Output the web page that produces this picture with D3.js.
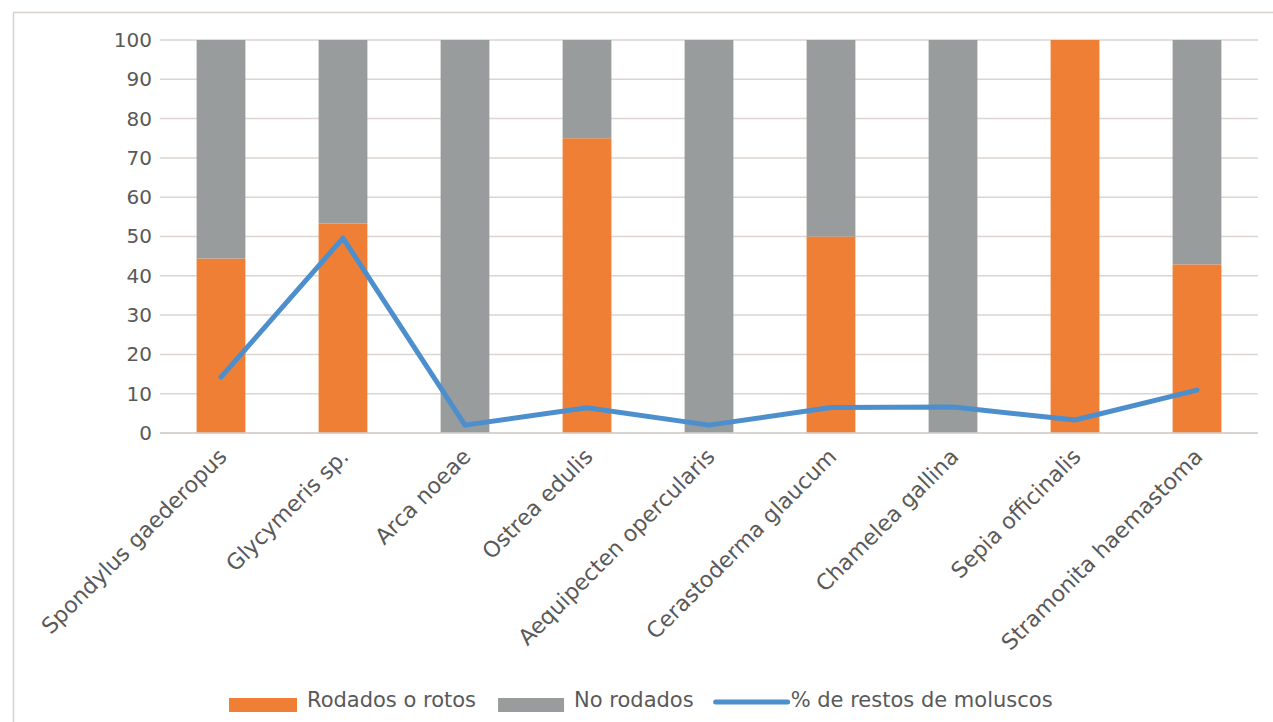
<!DOCTYPE html>
<html>
<head>
<meta charset="utf-8">
<script src="https://cdn.jsdelivr.net/npm/d3@7"></script>
<style>
  html, body { margin: 0; padding: 0; background: #ffffff; }
  svg { display: block; }
  text { font-family: "DejaVu Sans", sans-serif; fill: #595959; }
</style>
</head>
<body>
<svg id="chart" width="1273" height="722"></svg>
<script>
const categories = [
  "Spondylus gaederopus", "Glycymeris sp.", "Arca noeae", "Ostrea edulis",
  "Aequipecten opercularis", "Cerastoderma glaucum", "Chamelea gallina",
  "Sepia officinalis", "Stramonita haemastoma"
];
const rodados = [44.4, 53.3, 0, 75, 0, 50, 0, 100, 42.9];
const noRodados = [55.6, 46.7, 100, 25, 100, 50, 100, 0, 57.1];
const restosPct = [14.2, 49.6, 2, 6.4, 2, 6.5, 6.6, 3.3, 10.9];
const yTicks = [0, 10, 20, 30, 40, 50, 60, 70, 80, 90, 100];
const seriesNames = ["Rodados o rotos", "No rodados", "% de restos de moluscos"];
const colors = ["#ef7f35", "#999c9c", "#4d8fcd"];

const svg = d3.select("#chart");
const W = 1273, H = 722;
const m = { left: 160, right: 1258, top: 40, bottom: 433 };

// chart area border
svg.append("rect").attr("x", 13.5).attr("y", 12.5)
  .attr("width", W + 20).attr("height", H + 20)
  .attr("fill", "#ffffff").attr("stroke", "#d8d2ce").attr("stroke-width", 1.5);

const x = d3.scaleBand().domain(categories).range([m.left, m.right]).paddingInner(0.6).paddingOuter(0.3);
const y = d3.scaleLinear().domain([0, 100]).range([m.bottom, m.top]);

// gridlines
svg.append("g").selectAll("line").data(yTicks).join("line")
  .attr("x1", m.left).attr("x2", m.right)
  .attr("y1", d => y(d)).attr("y2", d => y(d))
  .attr("stroke", "#dcd5d1").attr("stroke-width", 1.5);

// y axis labels
const yAxis = d3.axisLeft(y).tickValues(yTicks).tickSize(0).tickPadding(8);
const yg = svg.append("g").attr("transform", `translate(${m.left},0)`).call(yAxis);
yg.select(".domain").remove();
yg.selectAll("text").attr("font-size", 20).attr("font-family", "DejaVu Sans").attr("fill", "#595959");

// stacked bars
const stackData = categories.map((c, i) => ({ cat: c, rod: rodados[i], no: noRodados[i] }));
const stack = d3.stack().keys(["rod", "no"])(stackData);
svg.append("g").selectAll("g").data(stack).join("g")
  .attr("fill", (d, i) => colors[i])
  .selectAll("rect").data(d => d).join("rect")
  .attr("x", d => x(d.data.cat))
  .attr("width", x.bandwidth())
  .attr("y", d => y(d[1]))
  .attr("height", d => y(d[0]) - y(d[1]));

// x axis line
svg.append("line").attr("x1", m.left).attr("x2", m.right)
  .attr("y1", y(0)).attr("y2", y(0)).attr("stroke", "#d6d0cc").attr("stroke-width", 1.5);

// line series
const line = d3.line().x((d, i) => x(categories[i]) + x.bandwidth() / 2).y(d => y(d));
svg.append("path").datum(restosPct).attr("d", line)
  .attr("fill", "none").attr("stroke", colors[2]).attr("stroke-width", 5)
  .attr("stroke-linejoin", "round").attr("stroke-linecap", "round");

// x labels rotated
const xAxis = d3.axisBottom(x).tickSize(0).tickPadding(0);
const xg = svg.append("g").attr("transform", `translate(0,${y(0)})`).call(xAxis);
xg.select(".domain").remove();
xg.selectAll("text")
  .attr("font-size", 22).attr("font-family", "DejaVu Sans").attr("fill", "#595959")
  .attr("text-anchor", "end")
  .attr("dy", 0).attr("y", 0)
  .attr("transform", "translate(7,25) rotate(-45)");

// legend
const lg = svg.append("g");
let cx = 229;
const ly = 705;
const items = [
  { type: "rect", w: 68, color: colors[0], name: seriesNames[0] },
  { type: "rect", w: 66, color: colors[1], name: seriesNames[1] },
  { type: "line", w: 72, color: colors[2], name: seriesNames[2] }
];
items.forEach((it, i) => {
  if (it.type === "rect") {
    lg.append("rect").attr("x", cx).attr("y", ly - 7).attr("width", it.w).attr("height", 14).attr("fill", it.color);
  } else {
    lg.append("line").attr("x1", cx).attr("x2", cx + it.w).attr("y1", ly - 3).attr("y2", ly - 3)
      .attr("stroke", it.color).attr("stroke-width", 5).attr("stroke-linecap", "round");
  }
  cx += it.w + (it.type === "rect" ? 10 : 3);
  const t = lg.append("text").attr("x", cx).attr("y", ly + 2).attr("font-size", 21)
    .attr("font-family", "DejaVu Sans").attr("fill", "#595959").text(it.name);
  cx += t.node().getComputedTextLength() + 22;
});
</script>
</body>
</html>
